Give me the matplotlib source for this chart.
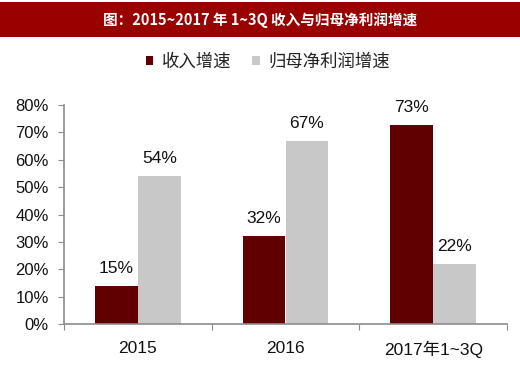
import matplotlib
matplotlib.use("Agg")
import matplotlib.pyplot as plt
from matplotlib.patches import Rectangle
import numpy as np

categories = ["2015", "2016", "2017年1~3Q"]
revenue_growth = [14.0, 32.1, 72.7]
profit_growth = [54.0, 66.8, 22.0]
revenue_labels = ["15%", "32%", "73%"]
profit_labels = ["54%", "67%", "22%"]
series_names = ["收入增速", "归母净利润增速"]
title = "图：2015~2017 年 1~3Q 收入与归母净利润增速"
yticks = [0, 10, 20, 30, 40, 50, 60, 70, 80]

plt.rcParams['font.family'] = ['Liberation Sans', 'Noto Sans CJK SC', 'DejaVu Sans']

dark = "#600000"
grey = "#c8c8c8"
spine_c = "#8c8c8c"

fig = plt.figure(figsize=(5.2, 3.7), dpi=100)
fig.patch.set_facecolor("white")

# title bar
fig.patches.append(Rectangle((0, 1 - 37/370), 1, 35/370, transform=fig.transFigure,
                             facecolor="#990000", edgecolor="none", zorder=0))
fig.text(0.5, 1 - 19.5/370, title, ha="center", va="center", color="white",
         fontsize=10.5, fontweight="bold", family=['Noto Sans CJK SC', 'DejaVu Sans'])

ax = fig.add_axes([64/520, 1 - 324/370, (507-64)/520, (324-105)/370])
x = np.arange(len(categories))
w = 0.29
b1 = ax.bar(x - w/2, revenue_growth, w, color=dark, label=series_names[0], zorder=2)
b2 = ax.bar(x + w/2, profit_growth, w, color=grey, label=series_names[1], zorder=2)

for rect, lab in zip(b1, revenue_labels):
    ax.text(rect.get_x() + rect.get_width()/2, rect.get_height() + 3.6, lab,
            ha="center", va="bottom", fontsize=12.5, color="#111111")
for rect, lab in zip(b2, profit_labels):
    ax.text(rect.get_x() + rect.get_width()/2, rect.get_height() + 3.6, lab,
            ha="center", va="bottom", fontsize=12.5, color="#111111")

ax.set_xlim(-0.5, len(categories) - 0.5)
ax.set_ylim(0, 80)
ax.set_yticks(yticks)
ax.set_yticklabels([f"{v}%" for v in yticks], fontsize=12, color="#111111")
ax.set_xticks(np.arange(-0.5, len(categories)), minor=False)
ax.set_xticklabels([])
ax.set_xticks(x, minor=True)
ax.set_xticklabels(categories, minor=True, fontsize=12.5, color="#111111")
ax.tick_params(axis="x", which="minor", length=0, pad=12)
ax.tick_params(axis="x", which="major", length=4, color=spine_c, direction="out")
ax.tick_params(axis="y", length=4, color=spine_c, direction="out", pad=7)
for s in ["top", "right"]:
    ax.spines[s].set_visible(False)
for s in ["left", "bottom"]:
    ax.spines[s].set_color(spine_c)
    ax.spines[s].set_linewidth(1.2)

leg = fig.legend(handles=[b1, b2], labels=series_names, loc="center",
                 bbox_to_anchor=(268/520, 1 - 62/370), ncol=2, frameon=False,
                 handlelength=0.45, handleheight=0.45, handletextpad=0.5,
                 columnspacing=1.2, prop={'family': ['Noto Sans CJK SC', 'DejaVu Sans'], 'size': 12.5})
for t in leg.get_texts():
    t.set_color("#222222")

fig.savefig("out.png", dpi=100, facecolor="white")
